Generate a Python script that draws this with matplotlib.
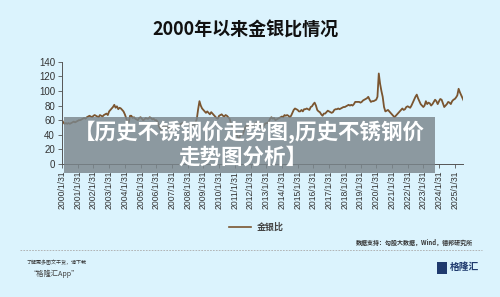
import matplotlib
matplotlib.use("Agg")
import matplotlib.pyplot as plt
import matplotlib.dates as mdates
from matplotlib.patches import Rectangle
import pandas as pd
import datetime as dt

plt.rcParams['font.family'] = ['Noto Sans CJK SC', 'DejaVu Sans']

# Gold/silver ratio, month-end values
y2000 = [60, 57, 55, 56, 55, 56, 55, 56, 57, 58, 57, 58]
y2001 = [59, 60, 60, 61, 62, 63, 62, 64, 65, 66, 65, 64]
y2002 = [66, 67, 66, 65, 64, 67, 66, 65, 67, 68, 69, 67]
y2003 = [72, 74, 76, 78, 81, 77, 79, 75, 77, 76, 74, 72]
y2004 = [68, 63, 58, 57, 66, 66, 63, 64, 62, 61, 60, 63]
y2005 = [64, 62, 60, 61, 63, 62, 62, 64, 63, 61, 62, 60]
y2006 = [60, 58, 52, 48, 47, 51, 53, 52, 51, 50, 49, 47]
y2007 = [50, 51, 52, 51, 52, 53, 54, 55, 56, 55, 56, 55]
y2008 = [55, 53, 52, 51, 52, 54, 56, 62, 75, 86, 80, 76]
y2009 = [74, 72, 70, 72, 70, 68, 71, 69, 67, 65, 63, 62]
y2010 = [66, 67, 68, 66, 65, 67, 66, 64, 62, 56, 52, 48]
y2011 = [46, 42, 38, 33, 38, 42, 40, 45, 50, 53, 52, 55]
y2012 = [54, 50, 52, 55, 56, 57, 58, 55, 51, 52, 52, 55]
y2013 = [56, 56, 58, 62, 64, 62, 63, 60, 61, 62, 63, 64]
y2014 = [65, 64, 67, 66, 67, 66, 64, 66, 70, 74, 76, 75]
y2015 = [74, 72, 72, 74, 72, 75, 75, 76, 75, 74, 78, 79]
y2016 = [82, 84, 80, 74, 72, 71, 68, 66, 69, 69, 71, 73]
y2017 = [72, 71, 70, 71, 74, 75, 75, 76, 75, 76, 77, 78]
y2018 = [78, 79, 80, 81, 80, 81, 80, 82, 85, 85, 85, 85]
y2019 = [84, 85, 87, 88, 89, 90, 92, 88, 85, 86, 86, 87]
y2020 = [88, 92, 124, 110, 100, 92, 78, 72, 73, 74, 72, 70]
y2021 = [68, 66, 64, 66, 68, 70, 72, 74, 76, 74, 75, 78]
y2022 = [79, 78, 77, 80, 84, 88, 92, 95, 90, 86, 82, 80]
y2023 = [78, 80, 86, 82, 84, 83, 80, 82, 85, 88, 86, 82]
y2024 = [86, 89, 88, 83, 78, 80, 82, 85, 84, 82, 86, 88]
y2025 = [89, 91, 94, 103, 98, 94, 90, 86]

ratio = (y2000 + y2001 + y2002 + y2003 + y2004 + y2005 + y2006 + y2007 + y2008
         + y2009 + y2010 + y2011 + y2012 + y2013 + y2014 + y2015 + y2016 + y2017
         + y2018 + y2019 + y2020 + y2021 + y2022 + y2023 + y2024 + y2025)
dates = pd.date_range('2000-01-31', periods=len(ratio), freq='ME')

years = list(range(2000, 2026))
tick_dates = [dt.datetime(y, 1, 31) for y in years]
tick_labels = [f"{y}/1/31" for y in years]

title = "2000年以来金银比情况"
legend_label = "金银比"
source = "数据支持：勾股大数据，Wind，德邦研究所"
overlay1 = "【历史不锈钢价走势图,历史不锈钢价"
overlay2 = "走势图分析】"

BG = '#dbf3fd'
fig = plt.figure(figsize=(5, 2.97), dpi=100, facecolor=BG)
ax = fig.add_axes([0.124, 0.448, 0.802, 0.344])
ax.set_facecolor(BG)

ax.plot(dates, ratio, color='#7a5530', lw=1.3)

ax.set_ylim(0, 140)
ax.set_yticks(range(0, 141, 20))
ax.set_xlim(dt.datetime(2000, 1, 31), dt.datetime(2025, 8, 10))
ax.set_xticks(tick_dates)
ax.set_xticklabels(tick_labels, rotation=90, fontsize=6.2,
                   family=['Liberation Sans', 'DejaVu Sans'], color='#333333')
for lab in ax.get_yticklabels():
    lab.set_fontsize(7)
    lab.set_family(['Liberation Sans', 'DejaVu Sans'])
    lab.set_color('#333333')
ax.tick_params(axis='both', length=3, width=0.6, color='#555555', pad=2)
for s in ['top', 'right']:
    ax.spines[s].set_visible(False)
for s in ['left', 'bottom']:
    ax.spines[s].set_color('#555555')
    ax.spines[s].set_linewidth(0.7)

fig.text(0.49, 0.899, title, ha='center', va='center', fontsize=13,
         fontweight='bold', color='#111111')

# legend
fig.add_artist(plt.Line2D([229/500, 251/500], [1 - 227/297, 1 - 227/297],
                          color='#7a5530', lw=1.2))
fig.text(257/500, 1 - 227/297, legend_label, ha='left', va='center',
         fontsize=6.5, fontweight='bold', color='#444444')

fig.text(473/500, 1 - 242/297, source, ha='right', va='center',
         fontsize=4.3, fontweight='bold', color='#333333')

fig.add_artist(plt.Line2D([20/500, 482/500], [1 - 250/297, 1 - 250/297],
                          color='#aaaaaa', lw=0.6, ls=(0, (2, 1.5))))

fig.text(26/500, 1 - 262/297, "了解更多图文干货，请下载", ha='left', va='center',
         fontsize=3.6, style='italic', color='#333333')
fig.text(30/500, 1 - 274/297, "“格隆汇App”", ha='left', va='center',
         fontsize=5.2, style='italic', color='#444444')

# logo
fig.add_artist(Rectangle((437/500, 1 - 274/297), 10/500, 12/297,
                         transform=fig.transFigure, facecolor='#1f3a6e',
                         edgecolor='none'))
fig.text(450/500, 1 - 267/297, "格隆汇", ha='left', va='center',
         fontsize=7, fontweight='bold', color='#1f3a6e')

# overlay box
fig.add_artist(Rectangle((64/500, 1 - 173/297), 371/500, 56/297,
                         transform=fig.transFigure, facecolor='#7b868c',
                         alpha=0.82, edgecolor='none', zorder=5))
fig.text(249/500, 1 - 132/297, overlay1, ha='center', va='center',
         fontsize=15.5, fontweight='bold', color='white', zorder=6)
fig.text(243/500, 1 - 157/297, overlay2, ha='center', va='center',
         fontsize=15.5, fontweight='bold', color='white', zorder=6)

fig.savefig('out.png', dpi=100, facecolor=BG)
